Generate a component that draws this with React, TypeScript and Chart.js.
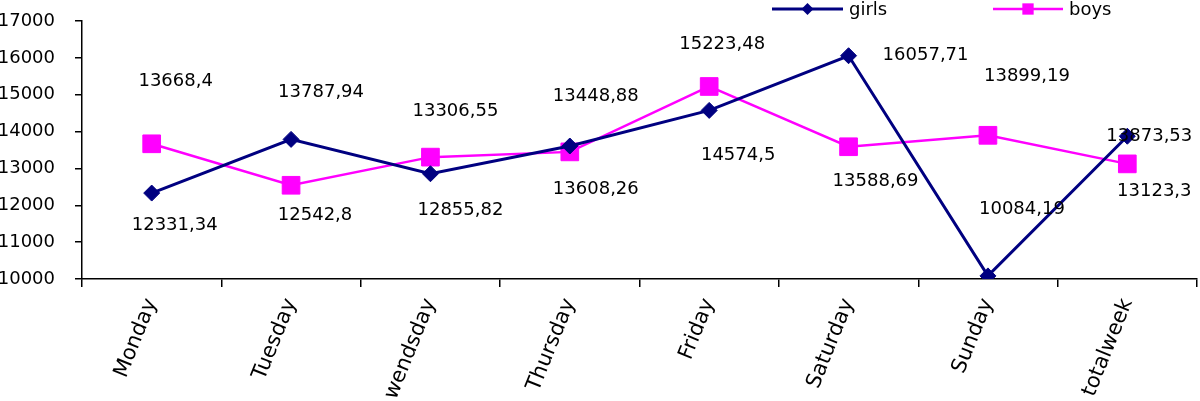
import React, { useEffect, useRef } from "react";
import { Chart, registerables } from "chart.js";

Chart.register(...registerables);

const categories = ["Monday", "Tuesday", "wendsday", "Thursday", "Friday", "Saturday", "Sunday", "totalweek"];
const girls = [12331.34, 13787.94, 12855.82, 13608.26, 14574.5, 16057.71, 10084.19, 13873.53];
const boys = [13668.4, 12542.8, 13306.55, 13448.88, 15223.48, 13588.69, 13899.19, 13123.3];
const yTicks = [10000, 11000, 12000, 13000, 14000, 15000, 16000, 17000];

// label placement (offset of label centre from its point), layout only
const girlsLabelOffsets = [[23, 32], [30, -47], [30, 37], [26, 43], [29, 45], [77, 0], [34, -67], [22, 0]];
const boysLabelOffsets = [[24, -62], [24, 30], [25, -46], [26, -56], [13, -42], [27, 35], [39, -59], [27, 27]];

const NAVY = "#000080";
const MAGENTA = "#FF00FF";
const FONT = "'DejaVu Sans', sans-serif";

const fmt = (v: number) => String(v).replace(".", ",");

const labelPlugin = {
  id: "valueLabels",
  afterDatasetsDraw(chart: any) {
    const ctx = chart.ctx;
    ctx.save();
    ctx.font = `18px ${FONT}`;
    ctx.fillStyle = "#000";
    ctx.textAlign = "center";
    ctx.textBaseline = "middle";
    const offsets = [girlsLabelOffsets, boysLabelOffsets];
    chart.data.datasets.forEach((ds: any, di: number) => {
      const meta = chart.getDatasetMeta(di);
      meta.data.forEach((pt: any, i: number) => {
        const [dx, dy] = offsets[di][i];
        ctx.fillText(fmt(ds.data[i]), pt.x + dx, pt.y + dy);
      });
    });
    ctx.restore();
  },
};

const legendPlugin = {
  id: "customLegend",
  afterDraw(chart: any) {
    const ctx = chart.ctx;
    ctx.save();
    const y = 9;
    const items = [
      { x0: 772, x1: 843, color: NAVY, label: "girls", style: "rectRot", r: 6, lw: 3 },
      { x0: 993, x1: 1063, color: MAGENTA, label: "boys", style: "rect", r: 8, lw: 2.5 },
    ];
    items.forEach((it) => {
      ctx.strokeStyle = it.color;
      ctx.lineWidth = it.lw;
      ctx.beginPath();
      ctx.moveTo(it.x0, y);
      ctx.lineTo(it.x1, y);
      ctx.stroke();
      ctx.fillStyle = it.color;
      const cx = (it.x0 + it.x1) / 2;
      ctx.beginPath();
      if (it.style === "rectRot") {
        ctx.moveTo(cx - it.r, y);
        ctx.lineTo(cx, y - it.r);
        ctx.lineTo(cx + it.r, y);
        ctx.lineTo(cx, y + it.r);
        ctx.closePath();
      } else {
        const s = it.r * Math.SQRT1_2;
        ctx.rect(cx - s, y - s, 2 * s, 2 * s);
      }
      ctx.fill();
      ctx.fillStyle = "#000";
      ctx.font = `18px ${FONT}`;
      ctx.textAlign = "left";
      ctx.textBaseline = "middle";
      ctx.fillText(it.label, it.x1 + 6, y + 1);
    });
    ctx.restore();
  },
};

export default function App() {
  const ref = useRef<HTMLCanvasElement | null>(null);
  useEffect(() => {
    document.body.style.margin = "0";
    if (!ref.current) return;
    const chart = new Chart(ref.current, {
      type: "line",
      data: {
        labels: categories,
        datasets: [
          {
            label: "girls",
            data: girls,
            borderColor: NAVY,
            backgroundColor: NAVY,
            borderWidth: 3,
            pointStyle: "rectRot",
            pointRadius: 8,
            pointBorderWidth: 1,
            pointBackgroundColor: NAVY,
            pointBorderColor: NAVY,
            tension: 0,
          },
          {
            label: "boys",
            data: boys,
            borderColor: MAGENTA,
            backgroundColor: MAGENTA,
            borderWidth: 2.5,
            pointStyle: "rect",
            pointRadius: 12.5,
            pointBorderWidth: 1,
            pointBackgroundColor: MAGENTA,
            pointBorderColor: MAGENTA,
            tension: 0,
          },
        ],
      },
      options: {
        animation: false,
        responsive: false,
        maintainAspectRatio: false,
        layout: { autoPadding: false, padding: { top: 21, right: 3, left: 0, bottom: 0 } },
        plugins: {
          legend: { display: false },
          tooltip: { enabled: false },
        },
        scales: {
          x: {
            type: "category",
            offset: true,
            grid: { offset: true, drawOnChartArea: false, tickLength: 8, color: "#000", lineWidth: 1.5 },
            border: { color: "#000", width: 1.5 },
            ticks: {
              autoSkip: false,
              maxRotation: 68,
              minRotation: 68,
              padding: 8,
              color: "#000",
              font: { family: FONT, size: 21 },
            },
            afterFit(scale: any) {
              scale.height = 122;
            },
          },
          y: {
            min: 10000,
            max: 17000,
            afterBuildTicks(scale: any) {
              scale.ticks = yTicks.map((v) => ({ value: v }));
            },
            grid: { drawOnChartArea: false, tickLength: 7, color: "#000", lineWidth: 1.5 },
            border: { color: "#000", width: 1.5 },
            ticks: {
              padding: 20,
              color: "#000",
              font: { family: FONT, size: 18 },
              callback: (v: any) => String(v),
            },
            afterFit(scale: any) {
              scale.width = 82;
              scale.paddingTop = 0;
              scale.paddingBottom = 0;
            },
          },
        },
      },
      plugins: [labelPlugin, legendPlugin],
    });
    return () => chart.destroy();
  }, []);
  return (
    <div style={{ width: 1200, height: 401 }}>
      <canvas ref={ref} width={1200} height={401} />
    </div>
  );
}
